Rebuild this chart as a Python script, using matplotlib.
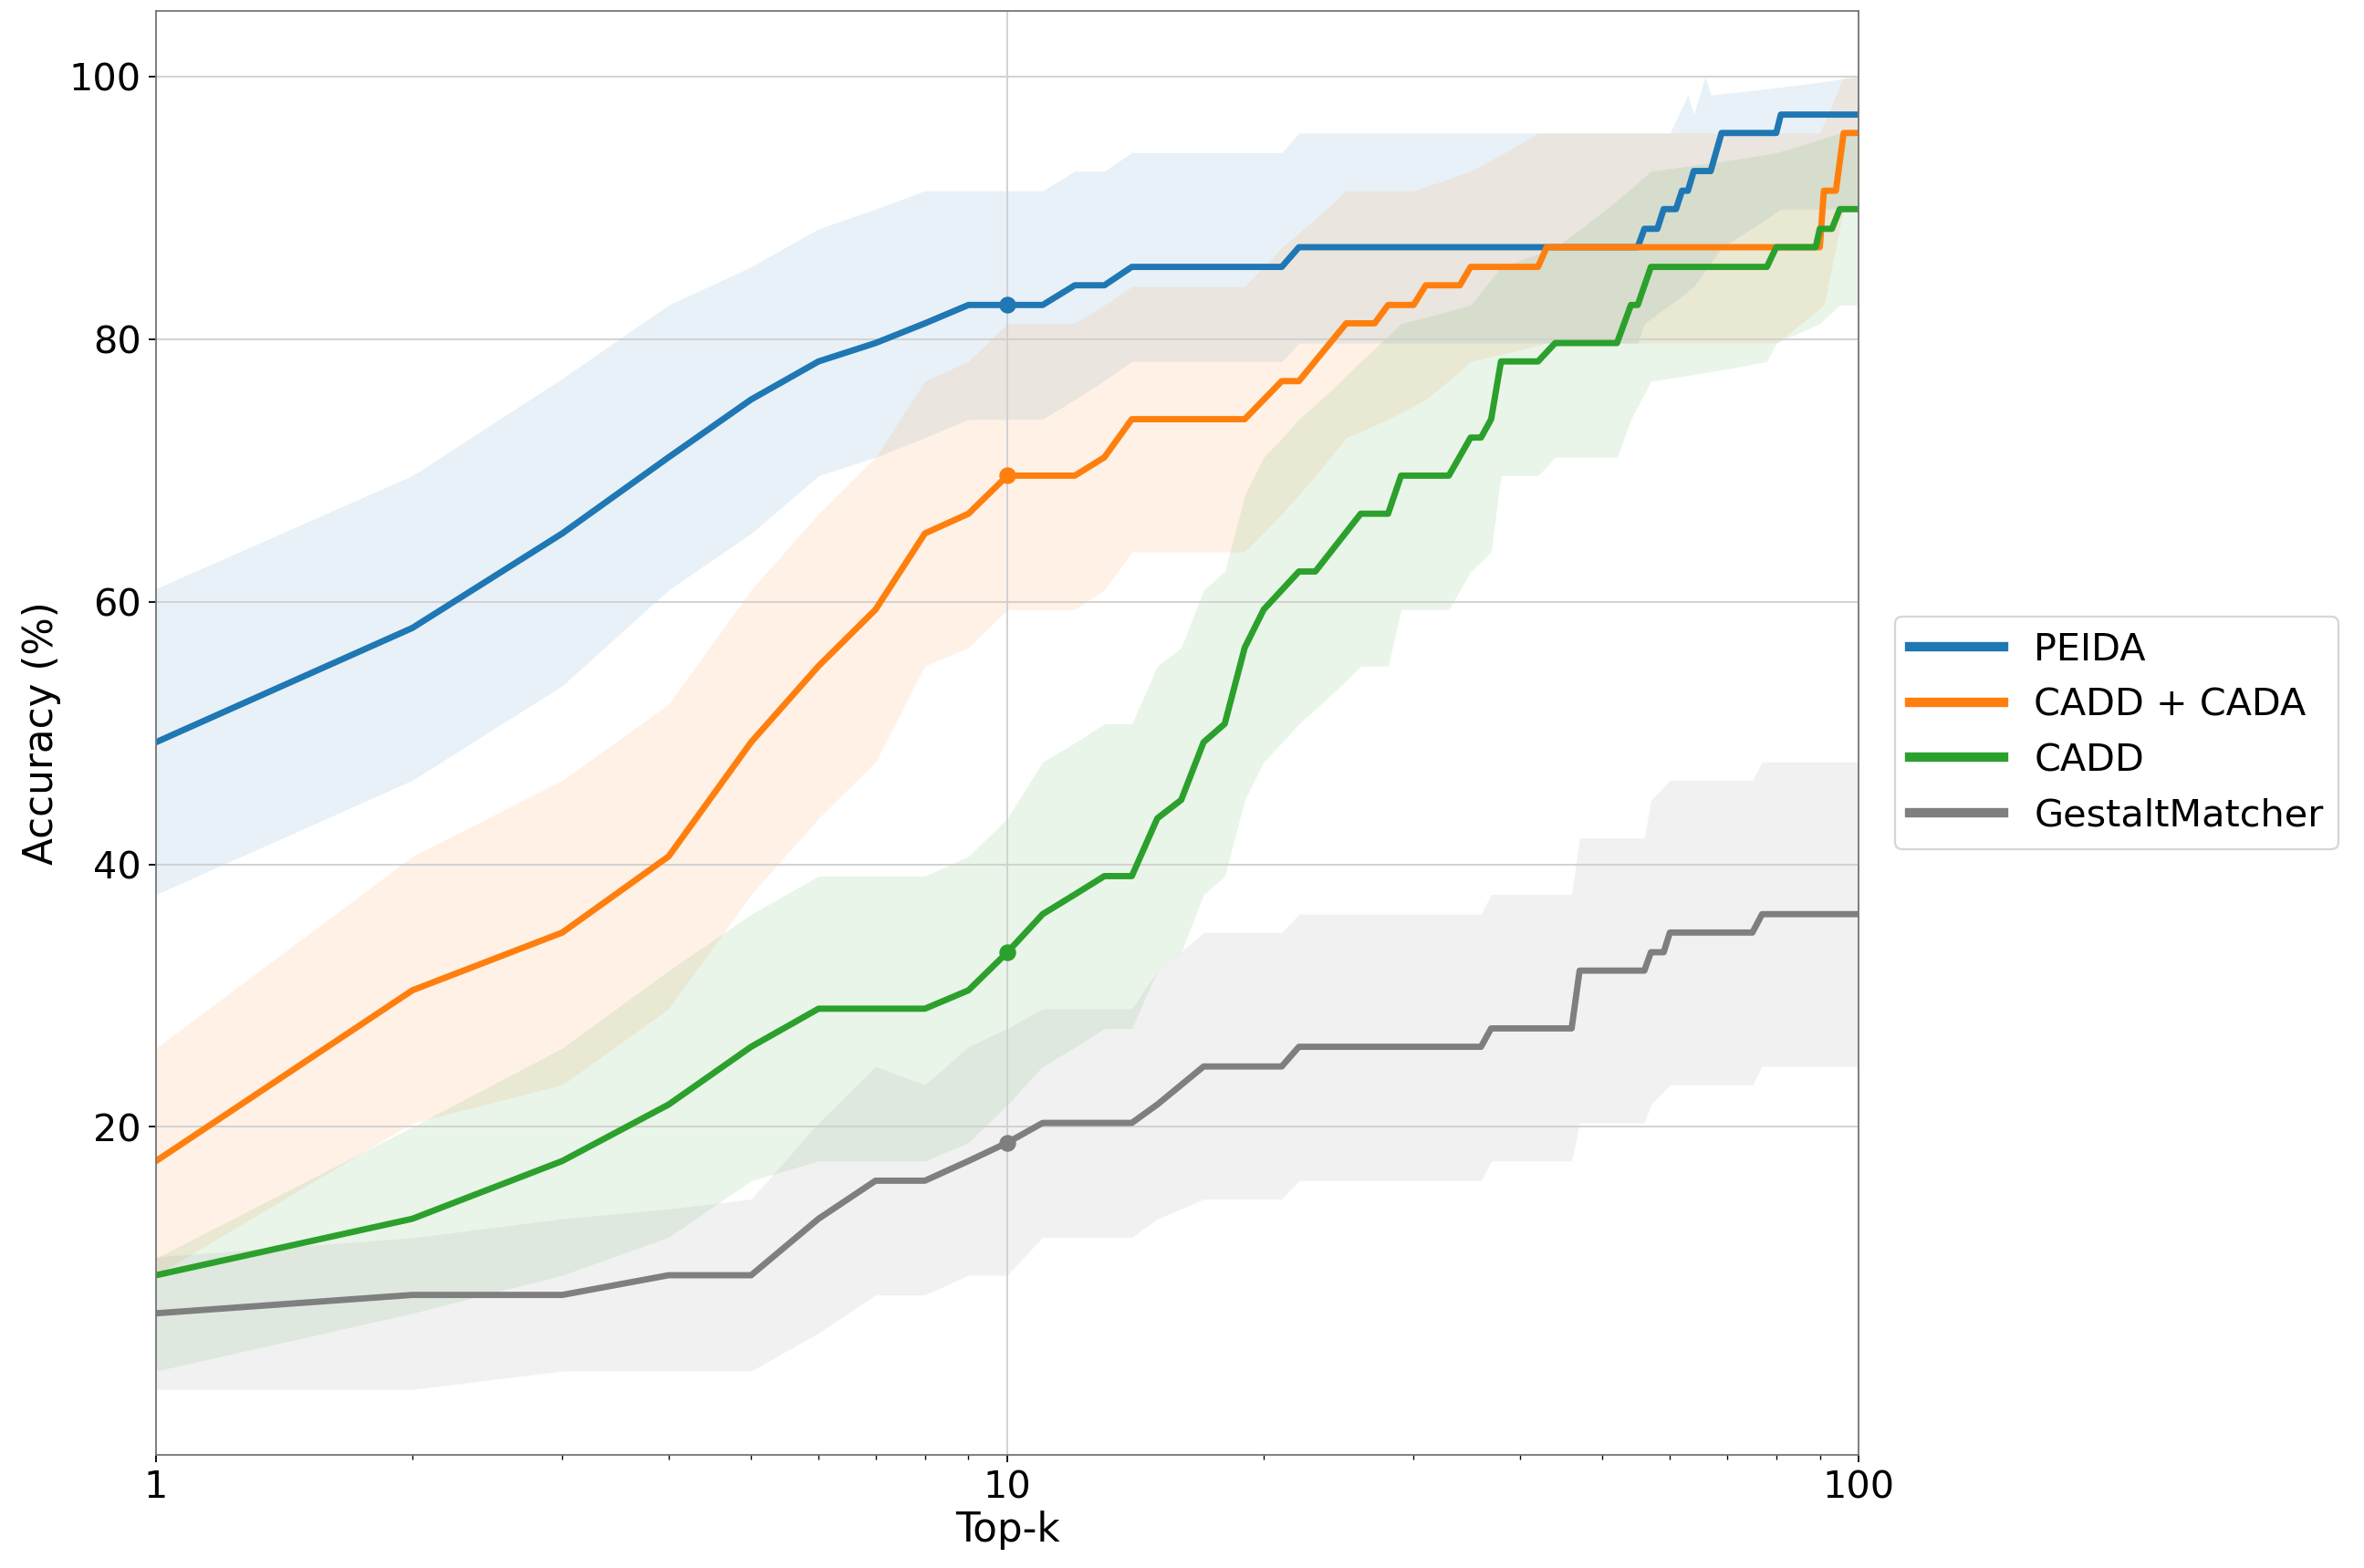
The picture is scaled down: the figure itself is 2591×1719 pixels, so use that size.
import matplotlib
matplotlib.use("Agg")
import matplotlib.pyplot as plt
import numpy as np

# PEIDA
peida_k = [1, 2, 3, 4, 5, 6, 7, 8, 9, 10, 11, 12, 13, 14, 21, 22, 55, 56, 58, 59, 61, 62, 63, 64, 67, 69, 80, 81, 100]
peida_v = [49.3, 58, 65.2, 71, 75.4, 78.3, 79.7, 81.2, 82.6, 82.6, 82.6, 84.1, 84.1, 85.5, 85.5, 87, 87, 88.4, 88.4, 89.9, 89.9, 91.3, 91.3, 92.8, 92.8, 95.7, 95.7, 97.1, 97.1]
peida_hi_k = [1, 2, 3, 4, 5, 6, 7, 8, 11, 12, 13, 14, 21, 22, 60, 63, 64, 66, 67, 100]
peida_hi = [61, 69.6, 77, 82.6, 85.5, 88.4, 89.9, 91.3, 91.3, 92.8, 92.8, 94.2, 94.2, 95.7, 95.7, 98.6, 97.1, 100, 98.6, 100]
peida_lo_k = [1, 2, 3, 4, 5, 6, 7, 8, 9, 11, 12, 14, 21, 22, 55, 56, 64, 69, 81, 100]
peida_lo = [37.7, 46.4, 53.6, 60.9, 65.2, 69.6, 71, 72.5, 73.9, 73.9, 75.4, 78.3, 78.3, 79.7, 79.7, 81.2, 84, 87, 89.9, 89.9]

# CADD + CADA
cc_k = [1, 2, 3, 4, 5, 6, 7, 8, 9, 10, 12, 13, 14, 19, 21, 22, 25, 27, 28, 30, 31, 34, 35, 42, 43, 90, 91, 94, 96, 100]
cc_v = [17.4, 30.4, 34.8, 40.6, 49.3, 55.1, 59.4, 65.2, 66.7, 69.6, 69.6, 71, 73.9, 73.9, 76.8, 76.8, 81.2, 81.2, 82.6, 82.6, 84.1, 84.1, 85.5, 85.5, 87, 87, 91.3, 91.3, 95.7, 95.7]
cc_hi_k = [1, 2, 3, 4, 5, 6, 7, 8, 9, 10, 12, 14, 19, 21, 25, 30, 35, 42, 90, 96, 100]
cc_hi = [26, 40.6, 46.4, 52.2, 60.9, 66.7, 71, 76.8, 78.3, 81.2, 81.2, 84, 84, 87, 91.3, 91.3, 92.8, 95.7, 95.7, 100, 100]
cc_lo_k = [1, 2, 3, 4, 5, 6, 7, 8, 9, 10, 12, 13, 14, 19, 21, 25, 28, 31, 35, 43, 80, 91, 96, 100]
cc_lo = [8.7, 20.3, 23.2, 29, 37.7, 43.5, 47.8, 55.1, 56.5, 59.4, 59.4, 60.9, 63.8, 63.8, 66.7, 72.5, 73.9, 75.4, 78.3, 79.7, 79.7, 82.6, 89.9, 89.9]

# CADD
cadd_k = [1, 2, 3, 4, 5, 6, 8, 9, 10, 11, 12, 13, 14, 15, 16, 17, 18, 19, 20, 22, 23, 26, 28, 29, 33, 35, 36, 37, 38, 42, 44, 52, 54, 55, 57, 78, 80, 89, 90, 93, 95, 100]
cadd_v = [8.7, 13, 17.4, 21.7, 26.1, 29, 29, 30.4, 33.3, 36.2, 37.7, 39.1, 39.1, 43.5, 44.9, 49.3, 50.7, 56.5, 59.4, 62.3, 62.3, 66.7, 66.7, 69.6, 69.6, 72.5, 72.5, 73.9, 78.3, 78.3, 79.7, 79.7, 82.6, 82.6, 85.5, 85.5, 87, 87, 88.4, 88.4, 89.9, 89.9]
cadd_hi_k = [1, 2, 3, 4, 5, 6, 8, 9, 10, 11, 13, 14, 15, 16, 17, 18, 19, 20, 22, 26, 29, 35, 38, 44, 57, 80, 95, 100]
cadd_hi = [10, 20, 26, 31.9, 36.2, 39.1, 39.1, 40.6, 43.5, 47.8, 50.7, 50.7, 55.1, 56.5, 60.9, 62.3, 68.1, 71, 73.9, 78.3, 81.2, 82.6, 85.5, 87, 92.8, 94.2, 95.7, 95.7]
cadd_lo_k = [1, 2, 3, 4, 5, 6, 8, 9, 10, 11, 13, 14, 15, 16, 17, 18, 19, 20, 22, 26, 28, 29, 33, 35, 37, 38, 42, 44, 52, 54, 57, 78, 80, 90, 95, 100]
cadd_lo = [1.4, 5.8, 8.7, 11.6, 15.9, 17.4, 17.4, 18.8, 21.7, 24.6, 27.5, 27.5, 31.9, 33.3, 37.7, 39.1, 44.9, 47.8, 50.7, 55.1, 55.1, 59.4, 59.4, 62.3, 63.8, 69.6, 69.6, 71, 71, 73.9, 76.8, 78.3, 79.7, 81.2, 82.6, 82.6]

# GestaltMatcher
gm_k = [1, 2, 3, 4, 5, 6, 7, 8, 9, 10, 11, 14, 15, 17, 21, 22, 36, 37, 46, 47, 56, 57, 59, 60, 75, 77, 100]
gm_v = [5.8, 7.2, 7.2, 8.7, 8.7, 13, 15.9, 15.9, 17.4, 18.8, 20.3, 20.3, 21.7, 24.6, 24.6, 26.1, 26.1, 27.5, 27.5, 31.9, 31.9, 33.3, 33.3, 34.8, 34.8, 36.2, 36.2]
gm_hi_k = [1, 3, 5, 6, 7, 8, 9, 10, 11, 14, 15, 17, 21, 22, 36, 37, 46, 47, 56, 57, 60, 75, 77, 100]
gm_hi = [10.1, 13, 14.5, 20.3, 24.6, 23.2, 26.1, 27.5, 29, 29, 31.9, 34.8, 34.8, 36.2, 36.2, 37.7, 37.7, 42, 42, 44.9, 46.4, 46.4, 47.8, 47.8]
gm_lo_k = [1, 2, 3, 5, 6, 7, 8, 9, 10, 11, 14, 15, 17, 21, 22, 36, 37, 46, 47, 56, 57, 60, 75, 77, 100]
gm_lo = [0, 0, 1.4, 1.4, 4.3, 7.2, 7.2, 8.7, 8.7, 11.6, 11.6, 13, 14.5, 14.5, 15.9, 15.9, 17.4, 17.4, 20.3, 20.3, 21.7, 23.2, 23.2, 24.6, 24.6]

series = [
    ("PEIDA", "#1f77b4", peida_k, peida_v, peida_lo_k, peida_lo, peida_hi_k, peida_hi),
    ("CADD + CADA", "#ff7f0e", cc_k, cc_v, cc_lo_k, cc_lo, cc_hi_k, cc_hi),
    ("CADD", "#2ca02c", cadd_k, cadd_v, cadd_lo_k, cadd_lo, cadd_hi_k, cadd_hi),
    ("GestaltMatcher", "#7f7f7f", gm_k, gm_v, gm_lo_k, gm_lo, gm_hi_k, gm_hi),
]

fig = plt.figure(figsize=(15.68, 10.4), dpi=165.3)
ax = fig.add_axes([0.066, 0.072, 0.72, 0.921])
kk = np.arange(1, 101)
for name, c, k, v, lk, lo, hk, hi in series:
    lo_i = np.interp(kk, lk, lo)
    hi_i = np.interp(kk, hk, hi)
    ax.fill_between(kk, lo_i, hi_i, color=c, alpha=0.1, linewidth=0)
    ax.plot(k, v, color=c, lw=3, label=name)
    ax.plot([10], [np.interp(10, k, v)], "o", color=c, ms=7)

ax.set_xscale("log")
ax.set_xlim(1, 100)
ax.set_ylim(-5, 105)
ax.set_yticks([20, 40, 60, 80, 100])
ax.set_xticks([1, 10, 100])
ax.set_xticklabels(["1", "10", "100"])
ax.tick_params(labelsize=18)
ax.grid(True, which="major", color="#d0d0d0", lw=0.8)
ax.set_xlabel("Top-k", fontsize=19, labelpad=2)
ax.set_ylabel("Accuracy (%)", fontsize=19)
for s in ax.spines.values():
    s.set_color("#777777")
leg = ax.legend(loc="center left", bbox_to_anchor=(1.01, 0.5), fontsize=18, handlelength=2.5)
for l in leg.get_lines():
    l.set_linewidth(4.5)
fig.savefig("out.png")
